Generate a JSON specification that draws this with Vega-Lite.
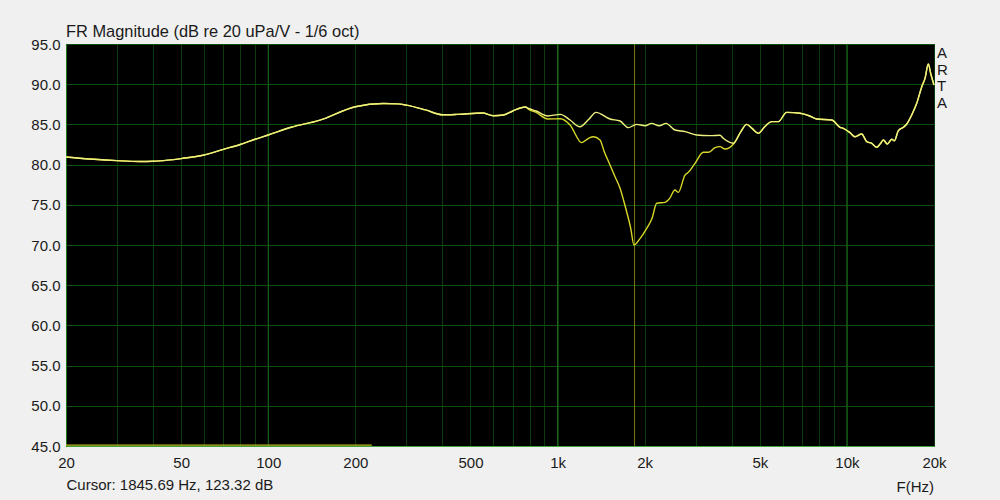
{
  "$schema": "https://vega.github.io/schema/vega-lite/v6.json",
  "width": 868,
  "height": 402,
  "autosize": "none",
  "padding": {"left": 66, "top": 44, "right": 66, "bottom": 54},
  "background": "#f0f0f0",
  "config": {
    "view": {"fill": "#000000", "stroke": "#1f7a1f", "strokeWidth": 1},
    "font": "Liberation Sans"
  },
  "title": {
    "text": "FR Magnitude (dB re 20 uPa/V - 1/6 oct)",
    "anchor": "start",
    "frame": "group",
    "fontSize": 16.4,
    "fontWeight": "normal",
    "color": "#1a1a1a",
    "font": "Liberation Sans",
    "offset": -3
  },
  "datasets": {
    "a": [
      {"f": 20, "db": 80.95}, {"f": 25, "db": 80.66}, {"f": 30, "db": 80.49}, {"f": 36, "db": 80.38}, {"f": 40, "db": 80.41},
      {"f": 45, "db": 80.55}, {"f": 50, "db": 80.75}, {"f": 60, "db": 81.2}, {"f": 70, "db": 81.9}, {"f": 80, "db": 82.5},
      {"f": 90, "db": 83.15}, {"f": 100, "db": 83.68}, {"f": 120, "db": 84.64}, {"f": 150, "db": 85.5}, {"f": 200, "db": 87.2},
      {"f": 250, "db": 87.6}, {"f": 280, "db": 87.55}, {"f": 300, "db": 87.4}, {"f": 350, "db": 86.8}, {"f": 400, "db": 86.2},
      {"f": 450, "db": 86.25}, {"f": 550, "db": 86.42}, {"f": 600, "db": 86.08}, {"f": 650, "db": 86.17}, {"f": 700, "db": 86.67},
      {"f": 773, "db": 87.16}, {"f": 800, "db": 86.95}, {"f": 843, "db": 86.67}, {"f": 924, "db": 86.05}, {"f": 1023, "db": 86.25},
      {"f": 1104, "db": 85.55}, {"f": 1195, "db": 84.7}, {"f": 1280, "db": 85.6}, {"f": 1358, "db": 86.5}, {"f": 1518, "db": 85.67},
      {"f": 1644, "db": 85.42}, {"f": 1756, "db": 84.6}, {"f": 1876, "db": 85.0}, {"f": 2005, "db": 84.84}, {"f": 2113, "db": 85.13},
      {"f": 2246, "db": 84.84}, {"f": 2370, "db": 85.13}, {"f": 2545, "db": 84.3}, {"f": 2757, "db": 84.1}, {"f": 3025, "db": 83.68},
      {"f": 3363, "db": 83.6}, {"f": 3642, "db": 83.65}, {"f": 3739, "db": 83.27}, {"f": 4049, "db": 82.65}, {"f": 4300, "db": 84.1},
      {"f": 4503, "db": 85.0}, {"f": 4700, "db": 84.5}, {"f": 4940, "db": 83.89}, {"f": 5200, "db": 84.7}, {"f": 5494, "db": 85.34},
      {"f": 5793, "db": 85.34}, {"f": 6191, "db": 86.5}, {"f": 6886, "db": 86.38}, {"f": 7400, "db": 86.08}, {"f": 7861, "db": 85.67},
      {"f": 8858, "db": 85.55}, {"f": 9467, "db": 84.64}, {"f": 9720, "db": 84.51}, {"f": 10250, "db": 83.97}, {"f": 10665, "db": 83.47},
      {"f": 11250, "db": 83.81}, {"f": 11707, "db": 82.85}, {"f": 12181, "db": 82.65}, {"f": 12678, "db": 82.15}, {"f": 13020, "db": 82.56},
      {"f": 13365, "db": 83.06}, {"f": 13796, "db": 82.56}, {"f": 14290, "db": 83.15}, {"f": 14600, "db": 82.97}, {"f": 15060, "db": 84.22},
      {"f": 15670, "db": 84.64}, {"f": 16100, "db": 85.05}, {"f": 16750, "db": 86.17}, {"f": 17430, "db": 87.62}, {"f": 18145, "db": 89.69},
      {"f": 18620, "db": 90.73}, {"f": 19120, "db": 92.51}, {"f": 19500, "db": 91.27}, {"f": 20000, "db": 89.9}
    ],
    "b": [
      {"f": 20, "db": 80.95}, {"f": 25, "db": 80.66}, {"f": 30, "db": 80.49}, {"f": 36, "db": 80.38}, {"f": 40, "db": 80.41},
      {"f": 45, "db": 80.55}, {"f": 50, "db": 80.75}, {"f": 60, "db": 81.2}, {"f": 70, "db": 81.9}, {"f": 80, "db": 82.5},
      {"f": 90, "db": 83.15}, {"f": 100, "db": 83.68}, {"f": 120, "db": 84.64}, {"f": 150, "db": 85.5}, {"f": 200, "db": 87.2},
      {"f": 250, "db": 87.6}, {"f": 280, "db": 87.55}, {"f": 300, "db": 87.4}, {"f": 350, "db": 86.8}, {"f": 400, "db": 86.2},
      {"f": 450, "db": 86.25}, {"f": 550, "db": 86.42}, {"f": 600, "db": 86.08}, {"f": 650, "db": 86.17}, {"f": 700, "db": 86.67},
      {"f": 773, "db": 87.16}, {"f": 800, "db": 86.8}, {"f": 843, "db": 86.5}, {"f": 924, "db": 85.67}, {"f": 1023, "db": 85.7},
      {"f": 1104, "db": 84.93}, {"f": 1212, "db": 82.73}, {"f": 1280, "db": 83.27}, {"f": 1329, "db": 83.47}, {"f": 1402, "db": 83.06},
      {"f": 1450, "db": 81.6}, {"f": 1518, "db": 79.95}, {"f": 1580, "db": 78.5}, {"f": 1644, "db": 77.05}, {"f": 1690, "db": 75.6},
      {"f": 1733, "db": 74.14}, {"f": 1790, "db": 72.08}, {"f": 1837, "db": 70.0}, {"f": 1930, "db": 70.83}, {"f": 2033, "db": 72.08},
      {"f": 2120, "db": 73.3}, {"f": 2201, "db": 75.19}, {"f": 2352, "db": 75.31}, {"f": 2440, "db": 75.8}, {"f": 2545, "db": 76.84},
      {"f": 2614, "db": 76.55}, {"f": 2757, "db": 78.7}, {"f": 2831, "db": 79.04}, {"f": 2986, "db": 80.16}, {"f": 3190, "db": 81.53},
      {"f": 3319, "db": 81.53}, {"f": 3501, "db": 82.1}, {"f": 3642, "db": 82.23}, {"f": 3790, "db": 81.94}, {"f": 4049, "db": 82.53},
      {"f": 4300, "db": 84.1}, {"f": 4503, "db": 85.0}, {"f": 4700, "db": 84.5}, {"f": 4940, "db": 83.89}, {"f": 5200, "db": 84.7},
      {"f": 5494, "db": 85.34}, {"f": 5793, "db": 85.34}, {"f": 6191, "db": 86.5}, {"f": 6886, "db": 86.38}, {"f": 7400, "db": 86.08},
      {"f": 7861, "db": 85.67}, {"f": 8858, "db": 85.55}, {"f": 9467, "db": 84.64}, {"f": 9720, "db": 84.51}, {"f": 10250, "db": 83.97},
      {"f": 10665, "db": 83.47}, {"f": 11250, "db": 83.81}, {"f": 11707, "db": 82.85}, {"f": 12181, "db": 82.65}, {"f": 12678, "db": 82.15},
      {"f": 13020, "db": 82.56}, {"f": 13365, "db": 83.06}, {"f": 13796, "db": 82.56}, {"f": 14290, "db": 83.15}, {"f": 14600, "db": 82.97},
      {"f": 15060, "db": 84.22}, {"f": 15670, "db": 84.64}, {"f": 16100, "db": 85.05}, {"f": 16750, "db": 86.17}, {"f": 17430, "db": 87.62},
      {"f": 18145, "db": 89.69}, {"f": 18620, "db": 90.73}, {"f": 19120, "db": 92.51}, {"f": 19500, "db": 91.27}, {"f": 20000, "db": 89.9}
    ],
    "c": [{"f": 20, "db": 45.12}, {"f": 228, "db": 45.12}],
    "cursor": [{"f": 1845.69}],
    "decades": [{"f": 100}, {"f": 1000}, {"f": 10000}],
    "labels": [{"f": 20000, "db": 95, "t": ["A", "R", "T", "A"]}],
    "unit": [{"f": 20000, "db": 45, "t": "F(Hz)"}]
  },
  "layer": [
    {
      "data": {"name": "decades"},
      "mark": {"type": "rule", "color": "#1b6b1b", "strokeWidth": 1},
      "encoding": {
        "x": {
          "field": "f", "type": "quantitative",
          "scale": {"type": "log", "domain": [20, 20000], "nice": false},
          "axis": {
            "values": [20, 30, 40, 50, 60, 70, 80, 90, 100, 200, 300, 400, 500, 600, 700, 800, 900, 1000, 2000, 3000, 4000, 5000, 6000, 7000, 8000, 9000, 10000, 20000],
            "labelExpr": "datum.value==1000?'1k':datum.value==2000?'2k':datum.value==5000?'5k':datum.value==10000?'10k':datum.value==20000?'20k':(datum.value==20||datum.value==50||datum.value==100||datum.value==200||datum.value==500)?(datum.value+''):''",
            "labelOverlap": false,
            "labelFlush": false,
            "labelFontSize": 15,
            "labelColor": "#1a1a1a",
            "labelPadding": 9,
            "ticks": false,
            "grid": true,
            "domainColor": "#3f9f3f",
            "gridColor": "#0b3a0b",
            "gridOpacity": 1,
            "title": "Cursor: 1845.69 Hz, 123.32 dB",
            "titleAnchor": "start",
            "titleAlign": "left",
            "titleFontSize": 15,
            "titleFontWeight": "normal",
            "titleColor": "#1a1a1a",
            "titlePadding": 7
          }
        },
        "y": {
          "datum": 45, "type": "quantitative",
          "scale": {"domain": [45, 95], "nice": false, "zero": false},
          "axis": {
            "values": [45, 50, 55, 60, 65, 70, 75, 80, 85, 90, 95],
            "format": ".1f",
            "labelFontSize": 15,
            "labelColor": "#1a1a1a",
            "labelPadding": 6,
            "ticks": false,
            "grid": true,
            "domainColor": "#1f7a1f",
            "gridColor": "#0d500d",
            "gridOpacity": 1,
            "title": null
          }
        },
        "y2": {"datum": 95}
      }
    },
    {
      "data": {"name": "cursor"},
      "mark": {"type": "rule", "color": "#7a7a12", "strokeWidth": 1},
      "encoding": {
        "x": {"field": "f", "type": "quantitative"},
        "y": {"datum": 45, "type": "quantitative"},
        "y2": {"datum": 95}
      }
    },
    {
      "data": {"name": "c"},
      "mark": {"type": "line", "color": "#c0c020", "strokeWidth": 1.3},
      "encoding": {
        "x": {"field": "f", "type": "quantitative"},
        "y": {"field": "db", "type": "quantitative"}
      }
    },
    {
      "data": {"name": "b"},
      "mark": {"type": "line", "color": "#d8d828", "strokeWidth": 1.4, "interpolate": "monotone"},
      "encoding": {
        "x": {"field": "f", "type": "quantitative"},
        "y": {"field": "db", "type": "quantitative"}
      }
    },
    {
      "data": {"name": "a"},
      "mark": {"type": "line", "color": "#f0f080", "strokeWidth": 1.4, "interpolate": "monotone"},
      "encoding": {
        "x": {"field": "f", "type": "quantitative"},
        "y": {"field": "db", "type": "quantitative"}
      }
    },
    {
      "data": {"name": "labels"},
      "mark": {"type": "text", "align": "left", "baseline": "top", "dx": 3, "dy": 2, "fontSize": 15, "lineHeight": 16.7, "color": "#1a1a1a"},
      "encoding": {
        "x": {"field": "f", "type": "quantitative"},
        "y": {"field": "db", "type": "quantitative"},
        "text": {"field": "t"}
      }
    },
    {
      "data": {"name": "unit"},
      "mark": {"type": "text", "align": "right", "baseline": "middle", "dy": 41, "fontSize": 15, "color": "#1a1a1a"},
      "encoding": {
        "x": {"field": "f", "type": "quantitative"},
        "y": {"field": "db", "type": "quantitative"},
        "text": {"field": "t"}
      }
    }
  ]
}
